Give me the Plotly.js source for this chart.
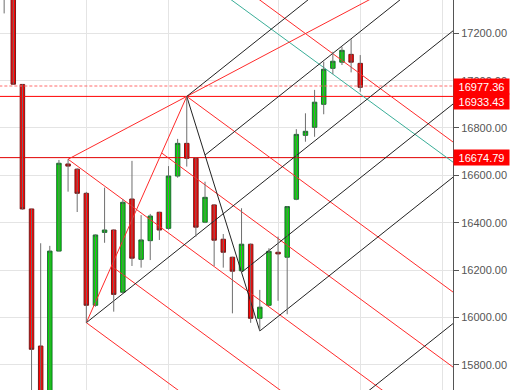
<!DOCTYPE html>
<html><head><meta charset="utf-8">
<script src="https://cdn.plot.ly/plotly-3.0.1.min.js"></script>
<style>html,body{margin:0;padding:0;background:#fff}#chart{width:515px;height:390px}</style>
</head><body><div id="chart"></div>
<script>
// ---- candle data (bar index, OHLC) ----
const barIndex = [0,1,2,3,4,5,6,7,8,9,10,11,12,13,14,15,16,17,18,19,20,21,22,23,24,25,26,27,28,29,30,31,32,33,34,35,36,37,38,39];
const openP  = [17520,17420,16984,16458,15879,15620,16280,16648,16626,16524,16051,16359,16369,16106,16500,16245,16324,16444,16376,16597,16735,16672,16402,16475,16330,16254,16197,16309,15996,16051,16275,16254,16499,16769,16803,16900,17052,17078,17111,17073];
const highP  = [17560,17440,16985,16458,16313,16302,16665,16668,16630,16530,16350,16548,16372,16499,16661,16432,16437,16446,16639,16754,16933.43,16675,16573,16478,16352,16256,16461,16312,16116,16292,16341,16470,16795,16862,16961,17080,17122,17143,17175,17108];
const lowP   = [17284,16984,16455,15650,15580,15600,16280,16531,16445,15977.4,16045,16315,16024,16100,16217,16210,16242,16327,16370,16590,16637,16341,16398,16217,16210,16017,16190,15977,15942.4,16048,16070,16013,16495,16742,16763,16858,17028,17066,17035,16953];
const closeP = [17420,16985,16458,15865,15600,16280,16651,16639,16524,16051,16348,16369,16097,16486,16250,16327,16428,16369,16597,16735,16672,16381,16507,16326,16275,16195,16309,15996,16043,16279,16268,16468,16773,16786,16909,17048,17082,17128,17078,16972];

// ---- drawing tools (anchors in bar index / price) ----
const redForkBars   = [7, 20, 9];              // A, B, C
const redForkPrices = [16668, 16933.43, 15977.4];
const blackForkBars   = [9, 20, 28];
const blackForkPrices = [15977.4, 16933.43, 15942.4];
const forkLevels = [-0.5, 0, 0.25, 0.75, 1, 1.5];
const tealBars   = [16, 50];
const tealPrices = [17592, 16632];
const levelPrices = [16977.36, 16933.43, 16674.79];
const yTicks = [15800,16000,16200,16400,16600,16800,17000,17200];
const xGrid = [9, 18, 30, 39, 48];

const xMin = -0.455, xMax = 49.16, yMin = 15693.1, yMax = 17340.7;
const X_END = 60;

function forkTrace(bars, prices, color){
  const A=[bars[0],prices[0]], B=[bars[1],prices[1]], C=[bars[2],prices[2]];
  const M=[(B[0]+C[0])/2,(B[1]+C[1])/2];
  const m=(M[1]-A[1])/(M[0]-A[0]);
  const xs=[], ys=[];
  xs.push(A[0], X_END, null); ys.push(A[1], A[1]+m*(X_END-A[0]), null);
  xs.push(B[0], C[0], null); ys.push(B[1], C[1], null);
  forkLevels.forEach(t=>{
    const sx=B[0]+t*(C[0]-B[0]), sy=B[1]+t*(C[1]-B[1]);
    xs.push(sx, X_END, null); ys.push(sy, sy+m*(X_END-sx), null);
  });
  return {type:'scatter', mode:'lines', x:xs, y:ys, line:{color:color, width:1}, hoverinfo:'skip'};
}

const traces = [];
// horizontal levels
traces.push({type:'scatter', mode:'lines', x:[xMin-5, X_END], y:[levelPrices[0],levelPrices[0]], line:{color:'#ff6a6a', width:1, dash:'3px,2px'}, hoverinfo:'skip'});
traces.push({type:'scatter', mode:'lines', x:[xMin-5, X_END], y:[levelPrices[1],levelPrices[1]], line:{color:'#ff0000', width:1}, hoverinfo:'skip'});
traces.push({type:'scatter', mode:'lines', x:[xMin-5, X_END], y:[levelPrices[2],levelPrices[2]], line:{color:'#e00000', width:1}, hoverinfo:'skip'});
// teal trend
const tSlope=(tealPrices[1]-tealPrices[0])/(tealBars[1]-tealBars[0]);
traces.push({type:'scatter', mode:'lines', x:[tealBars[0], X_END], y:[tealPrices[0], tealPrices[0]+tSlope*(X_END-tealBars[0])], line:{color:'#3aae98', width:1}, hoverinfo:'skip'});
// red ray A->B extended
const rSlope=(redForkPrices[1]-redForkPrices[0])/(redForkBars[1]-redForkBars[0]);
traces.push({type:'scatter', mode:'lines', x:[redForkBars[0], X_END], y:[redForkPrices[0], redForkPrices[0]+rSlope*(X_END-redForkBars[0])], line:{color:'#ff2a2a', width:1}, hoverinfo:'skip'});
traces.push(forkTrace(redForkBars, redForkPrices, '#ff2a2a'));
traces.push(forkTrace(blackForkBars, blackForkPrices, '#222222'));

// wicks
const wx=[], wy=[];
barIndex.forEach((b,i)=>{ wx.push(b,b,null); wy.push(lowP[i],highP[i],null); });
traces.push({type:'scatter', mode:'lines', x:wx, y:wy, line:{color:'#6e6e6e', width:1}, hoverinfo:'skip'});
// bodies
traces.push({type:'candlestick', x:barIndex, open:openP, close:closeP,
  high: openP.map((o,i)=>Math.max(o,closeP[i])), low: openP.map((o,i)=>Math.min(o,closeP[i])),
  increasing:{fillcolor:'#00dd00', line:{color:'#1f6a32', width:1}},
  decreasing:{fillcolor:'#ff0000', line:{color:'#7a1a1a', width:1}},
  whiskerwidth:0, hoverinfo:'skip'});

const font = "Arial, 'Liberation Sans', sans-serif";
const layout = {
  width:515, height:390, margin:{l:0, r:62, t:0, b:0},
  paper_bgcolor:'#ffffff', plot_bgcolor:'#ffffff', showlegend:false,
  xaxis:{range:[xMin,xMax], tickmode:'array', tickvals:xGrid, showticklabels:false, ticks:'',
    showgrid:true, gridcolor:'#e4e4e4', gridwidth:1, zeroline:false, showline:false,
    rangeslider:{visible:false}, fixedrange:true},
  yaxis:{side:'right', range:[yMin,yMax], tickmode:'array', tickvals:yTicks, tickformat:'.2f',
    showgrid:true, gridcolor:'#e4e4e4', gridwidth:1, zeroline:false,
    ticks:'outside', ticklen:5, tickcolor:'#555', showline:true, linecolor:'#555', linewidth:1,
    tickfont:{family:font, size:11, color:'#555'}, fixedrange:true},
  annotations: levelPrices.map((v,i)=>({xref:'paper', x:1, xanchor:'left', yref:'y', y:v, yanchor:'middle',
    text:v.toFixed(2), showarrow:false, bgcolor:'#ff0000', borderpad:1, width:53, height:13,
    font:{family:font, size:11, color:'#ffffff'}, yshift: i===1 ? -5 : 0}))
};
Plotly.newPlot('chart', traces, layout, {displayModeBar:false, staticPlot:true});
</script></body></html>
